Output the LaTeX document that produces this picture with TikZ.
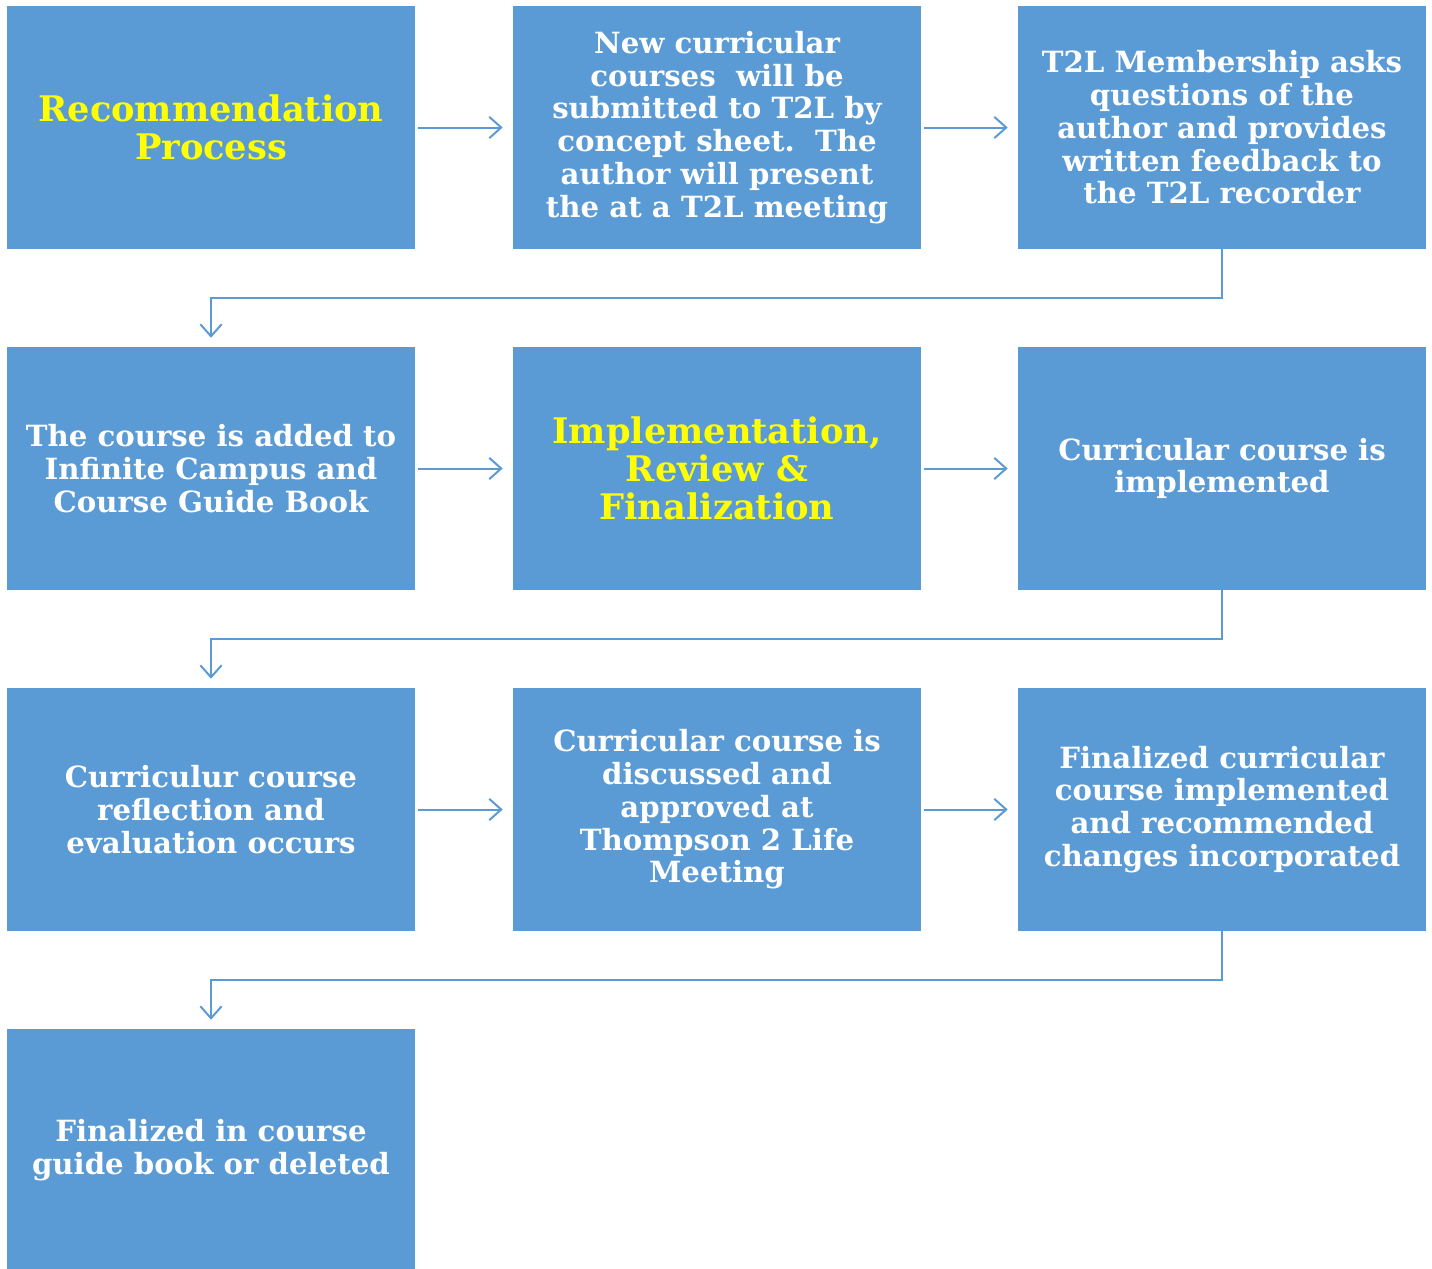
\documentclass[tikz,border=0pt]{standalone}
\usepackage{fontspec}
\setmainfont{DejaVu Serif}
\usetikzlibrary{arrows.meta}
\definecolor{boxblue}{HTML}{5B9BD5}
\definecolor{titleyellow}{HTML}{FFFF00}
\tikzset{
  box/.style={fill=boxblue, draw=none, inner sep=0pt, minimum width=306pt, minimum height=182.25pt,
    align=center, text=white, font=\bfseries\fontsize{21.9pt}{24.6pt}\selectfont},
  titlebox/.style={box, text=titleyellow, font=\bfseries\fontsize{26.4pt}{28.5pt}\selectfont},
  conn/.style={draw=boxblue, line width=1.5pt, -{Straight Barb[length=9pt, width=16pt, line width=1.5pt]}},
  hconn/.style={conn, shorten <=2.25pt, shorten >=7.5pt},
  vconn/.style={conn, shorten >=6.75pt}
}
\begin{document}
\begin{tikzpicture}[x=0.75pt,y=-0.75pt]
\useasboundingbox (0,0) rectangle (1432,1268);
\begin{scope}
\clip (0,0) rectangle (1432,1268);
\node[titlebox] (b1) at (211,127.5) {Recommendation\\Process};
\node[box] (b2) at (717,127.5) {New curricular\\courses\ \ will be\\submitted to T2L by\\concept sheet.\ \ The\\author will present\\the at a T2L meeting};
\node[box] (b3) at (1222,127.5) {T2L Membership asks\\questions of the\\author and provides\\written feedback to\\the T2L recorder};
\node[box] (b4) at (211,468.5) {The course is added to\\Infinite Campus and\\Course Guide Book};
\node[titlebox] (b5) at (717,468.5) {Implementation,\\Review \&\\Finalization};
\node[box] (b6) at (1222,468.5) {Curricular course is\\implemented};
\node[box] (b7) at (211,809.5) {Curriculur course\\reflection and\\evaluation occurs};
\node[box] (b8) at (717,809.5) {Curricular course is\\discussed and\\approved at\\Thompson 2 Life\\Meeting};
\node[box] (b9) at (1222,809.5) {Finalized curricular\\course implemented\\and recommended\\changes incorporated};
\node[box] (b10) at (211,1150.5) {Finalized in course\\guide book or deleted};
\end{scope}
\draw[hconn] (b1.east) -- (b2.west);
\draw[hconn] (b2.east) -- (b3.west);
\draw[hconn] (b4.east) -- (b5.west);
\draw[hconn] (b5.east) -- (b6.west);
\draw[hconn] (b7.east) -- (b8.west);
\draw[hconn] (b8.east) -- (b9.west);
\draw[vconn] (b3.south) -- ++(0,49) -| (b4.north);
\draw[vconn] (b6.south) -- ++(0,49) -| (b7.north);
\draw[vconn] (b9.south) -- ++(0,49) -| (b10.north);
\end{tikzpicture}
\end{document}
